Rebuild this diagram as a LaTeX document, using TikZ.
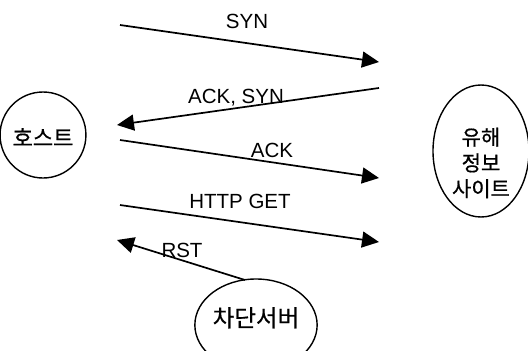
\documentclass[tikz,border=0pt]{standalone}
\usepackage{fontspec}
\setmainfont{Liberation Sans}
\newfontfamily\krfont{Noto Sans CJK KR}[FakeBold=0.6]
\usetikzlibrary{arrows.meta,shapes.geometric,positioning}
\tikzstyle{msg} = [line width=1.7pt,-{Triangle[length=17pt,width=16pt]}]
\newcommand{\lowtext}[2]{\raisebox{#1}[0pt][0pt]{\begin{tabular}{@{}c@{}}#2\end{tabular}}}

\begin{document}
\begin{tikzpicture}[x=1pt, y=-1pt,
    party/.style={ellipse, draw, line width=1.4pt, inner sep=0pt, font=\krfont\fontsize{21}{24.5}\selectfont},
    label/.style={font=\fontsize{20.5}{24}\selectfont, inner sep=0pt, anchor=base}]
\useasboundingbox (0,0) rectangle (528,351);

% Parties
\node[party, minimum width=80pt, minimum height=86pt, font=\krfont\fontsize{22}{26}\selectfont] (host) at (43,135) {\lowtext{-11pt}{호스트}};
\node[party, minimum width=96pt, minimum height=132pt] (site) at (481,151) {\lowtext{-20pt}{유해\\[1pt]정보\\[1pt]사이트}};
\node[party, minimum width=95pt, minimum height=92pt, font=\krfont\fontsize{23.5}{26}\selectfont] (block) at (256,325) {\lowtext{-2pt}{차단서버}};

% Message ends
\coordinate (synS) at (120,25);
\coordinate (synE) at (379,62);
\coordinate (asS) at (379,88);
\coordinate (asE) at (117,125);
\coordinate (ackS) at (120,140);
\coordinate (ackE) at (379,178);
\coordinate (getS) at (120,205);
\coordinate (getE) at (379,242);
\coordinate (rstS) at (245,280);
\coordinate (rstE) at (117,240);

% Messages
\draw[msg] (synS) -- (synE);
\draw[msg] (asS) -- (asE);
\draw[msg] (ackS) -- (ackE);
\draw[msg] (getS) -- (getE);
\draw[msg] (rstS) -- (rstE);

% Labels
\node[label] (synL) at (247,28) {SYN};
\node[label] (asL) at (236,103) {ACK, SYN};
\node[label] (ackL) at (272,157) {ACK};
\node[label] (getL) at (240,208) {HTTP GET};
\node[label] (rstL) at (182,257) {RST};
\end{tikzpicture}
\end{document}
